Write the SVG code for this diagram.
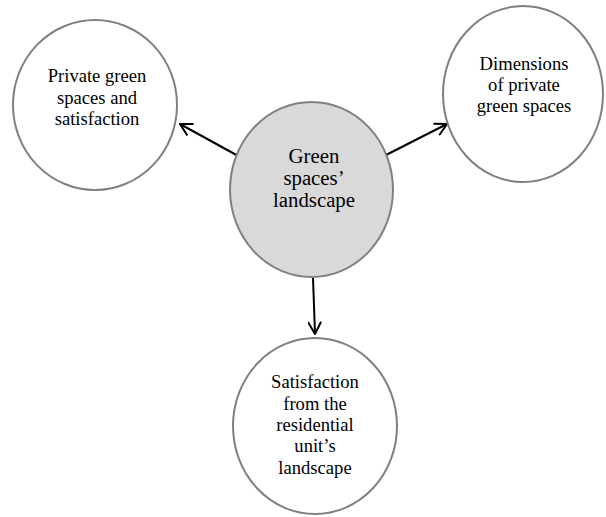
<svg xmlns="http://www.w3.org/2000/svg" width="606" height="517" viewBox="0 0 606 517">
<defs>
<style>
.node ellipse{fill:#fff;stroke:#808080;stroke-width:2}
.node.main ellipse{fill:#d9d9d9}
.node text{font-family:"Liberation Serif","Times New Roman",serif;font-size:18.6px;fill:#000;text-anchor:middle}
.node.main text{font-size:20.8px}
.conn line{stroke:#000;stroke-width:2;fill:none}
</style>
<marker id="arr" viewBox="0 0 14 14" refX="13" refY="7" markerWidth="14" markerHeight="14" markerUnits="userSpaceOnUse" orient="auto">
<path d="M1,0.5 L13,7 L1,13.5" fill="none" stroke="#000" stroke-width="2"/>
</marker>
</defs>
<rect width="606" height="517" fill="#fff"/>
<g id="connectors" class="conn">
<line x1="240" y1="157" x2="180" y2="124" marker-end="url(#arr)"/>
<line x1="386" y1="155" x2="447" y2="124" marker-end="url(#arr)"/>
<line x1="313" y1="278" x2="315" y2="334" marker-end="url(#arr)"/>
</g>
<g id="node-private" class="node">
<ellipse cx="95" cy="105" rx="82" ry="85"/>
<text x="97" y="82">Private green</text>
<text x="97" y="103.5">spaces and</text>
<text x="97" y="125">satisfaction</text>
</g>
<g id="node-dimensions" class="node">
<ellipse cx="523" cy="94" rx="80" ry="88"/>
<text x="524" y="70">Dimensions</text>
<text x="524" y="91">of private</text>
<text x="524" y="112">green spaces</text>
</g>
<g id="node-center" class="node main">
<ellipse cx="311.5" cy="189.5" rx="81.5" ry="87.5"/>
<text x="314" y="163">Green</text>
<text x="314" y="185">spaces’</text>
<text x="314" y="207">landscape</text>
</g>
<g id="node-satisfaction" class="node">
<ellipse cx="315" cy="426" rx="82" ry="88"/>
<text x="315" y="388">Satisfaction</text>
<text x="315" y="410">from the</text>
<text x="315" y="431">residential</text>
<text x="315" y="452">unit’s</text>
<text x="315" y="474">landscape</text>
</g>
</svg>
